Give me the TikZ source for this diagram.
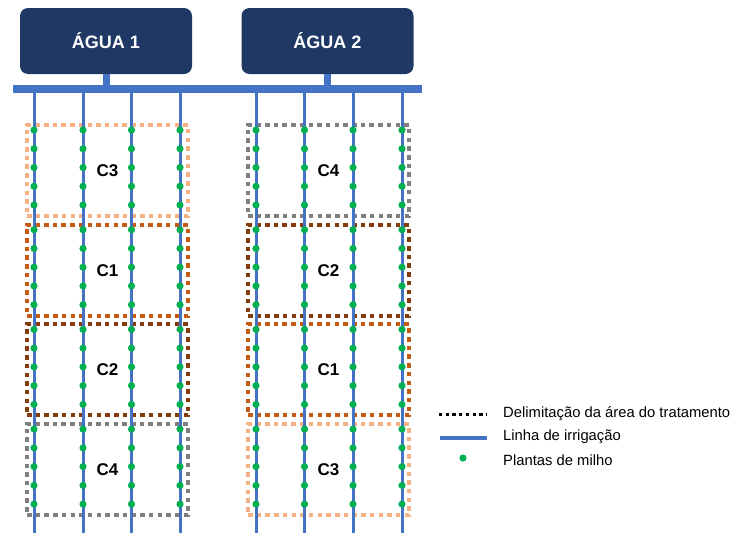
\documentclass[tikz,border=0pt]{standalone}
\usepackage{fontspec}
\setmainfont{Liberation Sans}
\usepackage{xcolor}
\usepackage{tikz}
\usetikzlibrary{positioning, calc}
\definecolor{aguanavy}{HTML}{203864}
\definecolor{linhablue}{HTML}{4472C4}
\definecolor{milhogreen}{HTML}{00B050}
\definecolor{laranjaclaro}{HTML}{F4B183}
\definecolor{laranjaescuro}{HTML}{C55A11}
\definecolor{marrom}{HTML}{843C0C}
\definecolor{cinza}{HTML}{7F7F7F}
\tikzset{
  agua/.style={fill=aguanavy, draw=none, rounded corners=8pt, minimum width=172pt,
               minimum height=66pt, text=white, font=\fontsize{18}{20}\selectfont\bfseries},
  cano/.style={line width=8pt, color=linhablue},
  ramal/.style={line width=7pt, color=linhablue},
  linha/.style={line width=3pt, color=linhablue},
  trat/.style={draw=#1, line width=4pt, dash pattern=on 4.5pt off 4.2pt, anchor=north west,
               minimum width=161pt, minimum height=91pt, inner sep=0pt,
               font=\fontsize{17}{19}\selectfont\bfseries},
  milho/.style={fill=milhogreen},
  leg/.style={font=\fontsize{14.8}{16}\selectfont, anchor=west, inner sep=0pt},
}
\begin{document}
\begin{tikzpicture}[x=1pt, y=-1pt]
  \useasboundingbox (0,0) rectangle (733,533);
  % caixas de agua
  \node[agua] (agua1) at (106,41) {ÁGUA 1};
  \node[agua] (agua2) at (327.5,41) {ÁGUA 2};
  % tratamentos
  \foreach \c/\cor [count=\k from 0] in {C3/laranjaclaro, C1/laranjaescuro, C2/marrom, C4/cinza}
    { \node[trat=\cor] (esq\c) at (25,{123+99.7*\k}) {\c}; }
  \foreach \c/\cor [count=\k from 0] in {C4/cinza, C2/marrom, C1/laranjaescuro, C3/laranjaclaro}
    { \node[trat=\cor] (dir\c) at (246,{123+99.7*\k}) {\c}; }
  % cano principal
  \coordinate (canoE) at (13,89);
  \coordinate (canoD) at (422,89);
  \draw[ramal] (agua1.south) -- (agua1.south |- canoE);
  \draw[ramal] (agua2.south) -- (agua2.south |- canoE);
  \draw[cano] (canoE) -- (canoD);
  % linhas de irrigacao e plantas
  \foreach \x [count=\n] in {34,83,131.5,180,256,304.5,353,402}
    { \coordinate (topo\n) at (\x,93);
      \coordinate (base\n) at (\x,533);
      \draw[linha] (topo\n) -- (base\n);
      \foreach \k in {0,...,3}
        \foreach \j in {0,...,4}
          { \fill[milho] (\x,{130+99.7*\k+18.75*\j}) circle (3.6pt); } }
  % legenda
  \coordinate (delimA) at (439,414);
  \coordinate (delimB) at (486,414);
  \draw[line width=3pt, dash pattern=on 3.3pt off 3.4pt] (delimA) -- (delimB);
  \node[leg] (legDelim) at (503,414) {Delimitação da área do tratamento};
  \coordinate (linhaA) at (440,438);
  \coordinate (linhaB) at (487,438);
  \draw[line width=3.5pt, color=linhablue] (linhaA) -- (linhaB);
  \node[leg] (legLinha) at (503,437) {Linha de irrigação};
  \fill[milho] (463,458) circle (3.6pt);
  \node[leg] (legMilho) at (503,460) {Plantas de milho};
\end{tikzpicture}
\end{document}
